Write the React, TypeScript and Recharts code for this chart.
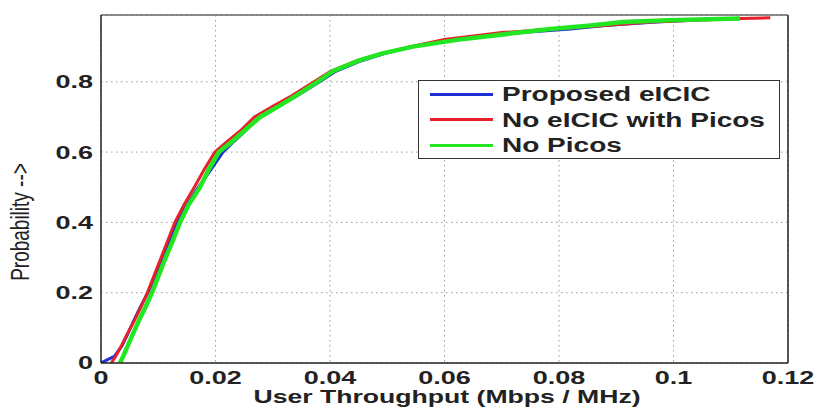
import * as React from "react"
import { LineChart, Line, XAxis, YAxis, CartesianGrid, ReferenceLine, Label } from "recharts"

// CDF of user throughput, one probability / throughput list per scheme
const proposedProb = [0, 0.02, 0.05, 0.08, 0.12, 0.16, 0.2, 0.25, 0.3, 0.35, 0.4, 0.45, 0.5, 0.55, 0.6, 0.63, 0.66, 0.7, 0.73, 0.76, 0.8, 0.83, 0.86, 0.88, 0.9, 0.92, 0.94, 0.95, 0.96, 0.97, 0.975, 0.98]
const proposedTput = [0, 0.0024, 0.0037, 0.0046, 0.0057, 0.0069, 0.0082, 0.0095, 0.0108, 0.012, 0.0132, 0.015, 0.017, 0.0192, 0.0213, 0.0232, 0.0252, 0.0276, 0.0308, 0.0342, 0.0382, 0.041, 0.0455, 0.0495, 0.0545, 0.0615, 0.0735, 0.082, 0.088, 0.097, 0.103, 0.107]

const noEicicProb = [0, 0.02, 0.05, 0.08, 0.12, 0.16, 0.2, 0.25, 0.3, 0.35, 0.4, 0.45, 0.5, 0.55, 0.6, 0.63, 0.66, 0.7, 0.73, 0.76, 0.8, 0.83, 0.86, 0.88, 0.9, 0.92, 0.94, 0.95, 0.96, 0.97, 0.975, 0.98, 0.982]
const noEicicTput = [0.0018, 0.0026, 0.0036, 0.0045, 0.0058, 0.007, 0.0081, 0.0093, 0.0105, 0.0117, 0.0129, 0.0145, 0.0163, 0.018, 0.0199, 0.022, 0.0243, 0.0268, 0.03, 0.0333, 0.0372, 0.0401, 0.0447, 0.049, 0.054, 0.06, 0.07, 0.079, 0.088, 0.096, 0.104, 0.112, 0.1169]

const noPicosProb = [0, 0.02, 0.05, 0.08, 0.12, 0.16, 0.2, 0.25, 0.3, 0.35, 0.4, 0.45, 0.5, 0.55, 0.6, 0.63, 0.66, 0.7, 0.73, 0.76, 0.8, 0.83, 0.86, 0.88, 0.9, 0.92, 0.94, 0.95, 0.96, 0.97, 0.975, 0.98]
const noPicosTput = [0.0033, 0.0039, 0.0047, 0.0055, 0.0066, 0.0078, 0.0089, 0.0101, 0.0113, 0.0126, 0.0138, 0.0153, 0.0173, 0.0188, 0.0206, 0.0229, 0.025, 0.0278, 0.031, 0.034, 0.0378, 0.0405, 0.045, 0.049, 0.0545, 0.0625, 0.073, 0.0785, 0.0855, 0.0912, 0.099, 0.1116]

const xTicks = [0, 0.02, 0.04, 0.06, 0.08, 0.1, 0.12]
const yTicks = [0, 0.2, 0.4, 0.6, 0.8]

const toPoints = (prob: number[], tput: number[]) => prob.map((p, i) => ({ x: tput[i], p }))

const series = [
  { name: "Proposed eICIC", color: "#1f2fd6", width: 3, data: toPoints(proposedProb, proposedTput) },
  { name: "No eICIC with Picos", color: "#e8202a", width: 3, data: toPoints(noEicicProb, noEicicTput) },
  { name: "No Picos", color: "#22e622", width: 4.5, data: toPoints(noPicosProb, noPicosTput) },
]

const FONT = "'Liberation Sans', Arial, Helvetica, sans-serif"

const XTick = (props: any) => {
  const { x, y, payload } = props
  return (
    <text transform={`translate(${x},${y}) scale(1.5,1)`} textAnchor="middle" dy="0.71em"
      fontFamily={FONT} fontSize={18} fontWeight="bold" fill="#222">
      {String(payload.value)}
    </text>
  )
}

const YTick = (props: any) => {
  const { x, y, payload } = props
  return (
    <text transform={`translate(${x},${y}) scale(1.5,1)`} textAnchor="end" dy="0.36em"
      fontFamily={FONT} fontSize={18} fontWeight="bold" fill="#222">
      {String(payload.value)}
    </text>
  )
}

export default function App() {
  return (
    <div style={{ position: "absolute", left: 0, top: 0, width: 819, height: 409, background: "#fff", overflow: "hidden" }}>
      <LineChart width={819} height={409} margin={{ top: 15, right: 31, left: 0, bottom: 0 }}>
        <CartesianGrid stroke="#9a9a9a" strokeDasharray="1.5 3.5" />
        <XAxis type="number" dataKey="x" domain={[0, 0.12]} ticks={xTicks} height={46}
          tick={<XTick />} tickLine={false} axisLine={{ stroke: "#222", strokeWidth: 1.5 }} allowDataOverflow>
          <Label content={() => (
            <text transform="translate(447,403) scale(1.4,1)" textAnchor="middle"
              fontFamily={FONT} fontSize={19} fontWeight="bold" fill="#222">
              User Throughput (Mbps / MHz)
            </text>
          )} />
        </XAxis>
        <YAxis type="number" domain={[0, 0.99]} ticks={yTicks} width={101}
          tick={<YTick />} tickLine={false} axisLine={{ stroke: "#222", strokeWidth: 1.5 }} allowDataOverflow>
          <Label content={() => (
            <text transform="translate(29,222) rotate(-90) scale(1,1.4)" textAnchor="middle"
              fontFamily={FONT} fontSize={19} fill="#222">
              {"Probability -->"}
            </text>
          )} />
        </YAxis>
        <ReferenceLine x={0.12} stroke="#222" strokeWidth={1.5} />
        <ReferenceLine y={0.99} stroke="#666" strokeWidth={1.5} />
        {series.map(s => (
          <Line key={s.name} data={s.data} dataKey="p" name={s.name} type="linear"
            stroke={s.color} strokeWidth={s.width} dot={false} isAnimationActive={false} />
        ))}
      </LineChart>

      <div style={{
        position: "absolute", left: 418, top: 80, width: 362, height: 79, boxSizing: "border-box",
        border: "1.5px solid #333", background: "#fff", fontFamily: FONT,
      }}>
        {series.map((s, i) => (
          <div key={s.name} style={{ position: "absolute", left: 0, top: 1 + i * 25.5, height: 24, width: 360 }}>
            <div style={{ position: "absolute", left: 11, top: 10.5, width: 63, height: 3, background: s.color }} />
            <span style={{
              position: "absolute", left: 83, top: 0, fontSize: 20, lineHeight: "24px", fontWeight: "bold",
              color: "#222", whiteSpace: "nowrap", transform: "scaleX(1.4)", transformOrigin: "left center",
            }}>{s.name}</span>
          </div>
        ))}
      </div>
    </div>
  )
}
